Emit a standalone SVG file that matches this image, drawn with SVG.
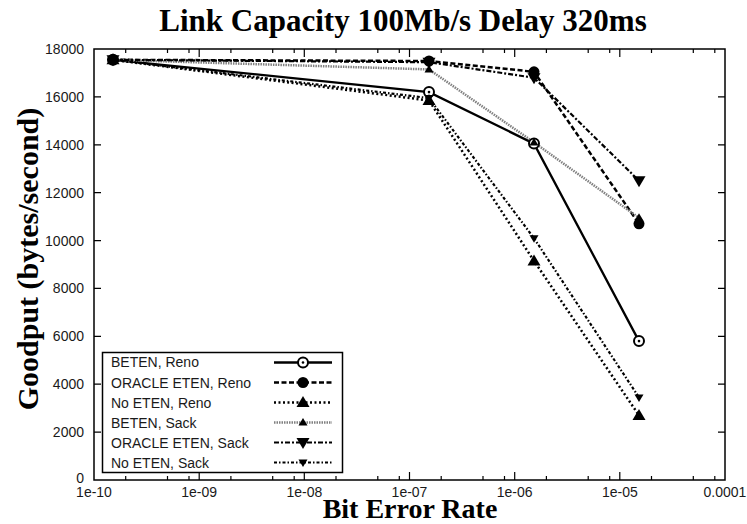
<svg xmlns="http://www.w3.org/2000/svg" xmlns:xlink="http://www.w3.org/1999/xlink" width="747" height="524" viewBox="0 0 747 524">
<style>
.bg{fill:#fff}
.frame{fill:none;stroke:#000;stroke-width:1.5}
.tick{stroke:#000;stroke-width:1.2}
.tl{font-family:"Liberation Sans",Arial,sans-serif;font-size:14px;fill:#1a1a1a}
.ttl{font-family:"Liberation Serif","Times New Roman",serif;font-weight:bold;fill:#000}
.s1{fill:none;stroke:#000;stroke-width:2.3}
.s2{fill:none;stroke:#000;stroke-width:2.5;stroke-dasharray:5 2.5}
.s3{fill:none;stroke:#000;stroke-width:2.5;stroke-dasharray:2 2.5}
.s4{fill:none;stroke:#808080;stroke-width:2.5;stroke-dasharray:1.5 1}
.s5{fill:none;stroke:#000;stroke-width:2.2;stroke-dasharray:5 2 2 2}
.s6{fill:none;stroke:#000;stroke-width:2.2;stroke-dasharray:3 2 1.5 2}
.legbox{fill:#fff;stroke:#000;stroke-width:1.5}
</style>
<defs>
<g id="mCircOpen"><circle r="5" fill="#fff" stroke="#000" stroke-width="2"/><circle r="1.3" fill="#000"/></g>
<circle id="mCircFill" r="5.5" fill="#000"/>
<polygon id="mTriUp" points="0,-6.5 6.5,4.5 -6.5,4.5" fill="#000"/>
<polygon id="mTriUpS" points="0,-4.5 4.5,3 -4.5,3" fill="#000"/>
<polygon id="mTriDown" points="0,6.5 6.5,-4.5 -6.5,-4.5" fill="#000"/>
<polygon id="mTriDownS" points="0,4.5 4.5,-3 -4.5,-3" fill="#000"/>
</defs>
<rect class="bg" x="0" y="0" width="747" height="524"/>

<text class="ttl" x="403" y="31" font-size="31" text-anchor="middle">Link Capacity 100Mb/s Delay 320ms</text>

<g id="axes">
<rect class="frame" x="94" y="49" width="631" height="431"/>
<g class="tick">
<path d="M94 432.1h7M94 384.2h7M94 336.3h7M94 288.4h7M94 240.6h7M94 192.7h7M94 144.8h7M94 96.9h7"/>
<path d="M725 432.1h-7M725 384.2h-7M725 336.3h-7M725 288.4h-7M725 240.6h-7M725 192.7h-7M725 144.8h-7M725 96.9h-7"/>
<path d="M199.2 480v-8M304.3 480v-8M409.5 480v-8M514.7 480v-8M619.8 480v-8M199.2 49v8M304.3 49v8M409.5 49v8M514.7 49v8M619.8 49v8"/>
<path d="M125.7 480v-4M167.5 480v-4M189 480v-4M230.9 480v-4M272.7 480v-4M294.2 480v-4M336 480v-4M377.8 480v-4M399.3 480v-4M441.2 480v-4M483 480v-4M504.5 480v-4M546.4 480v-4M588.2 480v-4M609.7 480v-4M651.5 480v-4M693.3 480v-4M714.8 480v-4"/>
<path d="M125.7 49v4M167.5 49v4M189 49v4M230.9 49v4M272.7 49v4M294.2 49v4M336 49v4M377.8 49v4M399.3 49v4M441.2 49v4M483 49v4M504.5 49v4M546.4 49v4M588.2 49v4M609.7 49v4M651.5 49v4M693.3 49v4M714.8 49v4"/>
</g>
<g class="tl" text-anchor="end">
<text x="84" y="483">0</text>
<text x="84" y="437">2000</text>
<text x="84" y="389">4000</text>
<text x="84" y="341">6000</text>
<text x="84" y="293">8000</text>
<text x="84" y="246">10000</text>
<text x="84" y="198">12000</text>
<text x="84" y="150">14000</text>
<text x="84" y="102">16000</text>
<text x="84" y="54">18000</text>
</g>
<g class="tl" text-anchor="middle">
<text x="94" y="497">1e-10</text>
<text x="199.2" y="497">1e-09</text>
<text x="304.3" y="497">1e-08</text>
<text x="409.5" y="497">1e-07</text>
<text x="514.7" y="497">1e-06</text>
<text x="619.8" y="497">1e-05</text>
<text x="725" y="497">0.0001</text>
</g>
<text class="ttl" x="410" y="518" font-size="28" text-anchor="middle">Bit Error Rate</text>
<text class="ttl" transform="translate(38 259) rotate(-90)" font-size="30" text-anchor="middle">Goodput (bytes/second)</text>
</g>

<g id="connectors">
<polyline id="l-beten-reno" class="s1" points="113,59.8 429,92.1 534,143.6 639,341.1"/>
<polyline id="l-oracle-reno" class="s2" points="113,59.8 429,61 534,71.8 639,223.8"/>
<polyline id="l-noeten-reno" class="s3" points="113,59.8 429,100.5 534,260.9 639,415.4"/>
<polyline id="l-beten-sack" class="s4" points="113,59.8 429,69.4 534,142.4 639,217.8"/>
<polyline id="l-oracle-sack" class="s5" points="113,59.8 429,62.2 534,77.7 639,180.7"/>
<polyline id="l-noeten-sack" class="s6" points="113,59.8 429,98.1 534,238.2 639,397.4"/>
</g>

<g id="points-beten-reno">
<use xlink:href="#mCircOpen" x="113" y="59.8"/><use xlink:href="#mCircOpen" x="429" y="92.1"/><use xlink:href="#mCircOpen" x="534" y="143.6"/><use xlink:href="#mCircOpen" x="639" y="341.1"/>
</g>
<g id="points-oracle-reno">
<use xlink:href="#mCircFill" x="113" y="59.8"/><use xlink:href="#mCircFill" x="429" y="61"/><use xlink:href="#mCircFill" x="534" y="71.8"/><use xlink:href="#mCircFill" x="639" y="223.8"/>
</g>
<g id="points-noeten-reno">
<use xlink:href="#mTriUp" x="113" y="59.8"/><use xlink:href="#mTriUp" x="429" y="100.5"/><use xlink:href="#mTriUp" x="534" y="260.9"/><use xlink:href="#mTriUp" x="639" y="415.4"/>
</g>
<g id="points-beten-sack">
<use xlink:href="#mTriUpS" x="113" y="59.8"/><use xlink:href="#mTriUpS" x="429" y="69.4"/><use xlink:href="#mTriUpS" x="534" y="142.4"/><use xlink:href="#mTriUpS" x="639" y="217.8"/>
</g>
<g id="points-oracle-sack">
<use xlink:href="#mTriDown" x="113" y="59.8"/><use xlink:href="#mTriDown" x="429" y="62.2"/><use xlink:href="#mTriDown" x="534" y="77.7"/><use xlink:href="#mTriDown" x="639" y="180.7"/>
</g>
<g id="points-noeten-sack">
<use xlink:href="#mTriDownS" x="113" y="59.8"/><use xlink:href="#mTriDownS" x="429" y="98.1"/><use xlink:href="#mTriDownS" x="534" y="238.2"/><use xlink:href="#mTriDownS" x="639" y="397.4"/>
</g>

<g id="legend">
<rect class="legbox" x="102.5" y="352.5" width="240" height="120"/>
<g class="tl">
<text x="111" y="367">BETEN, Reno</text>
<text x="111" y="387.5">ORACLE ETEN, Reno</text>
<text x="111" y="407.5">No ETEN, Reno</text>
<text x="111" y="427.5">BETEN, Sack</text>
<text x="111" y="447.5">ORACLE ETEN, Sack</text>
<text x="111" y="467.5">No ETEN, Sack</text>
</g>
<path class="s1" d="M274 362.5H332"/>
<path class="s2" d="M274 382.5H332"/>
<path class="s3" d="M274 402.5H332"/>
<path class="s4" d="M274 422.5H332"/>
<path class="s5" d="M274 442.5H332"/>
<path class="s6" d="M274 462.5H332"/>
<use xlink:href="#mCircOpen" x="303" y="362.5"/>
<use xlink:href="#mCircFill" x="303" y="382.5"/>
<use xlink:href="#mTriUp" x="303" y="402.5"/>
<use xlink:href="#mTriUpS" x="303" y="422.5"/>
<use xlink:href="#mTriDown" x="303" y="442.5"/>
<use xlink:href="#mTriDownS" x="303" y="462.5"/>
</g>
</svg>
